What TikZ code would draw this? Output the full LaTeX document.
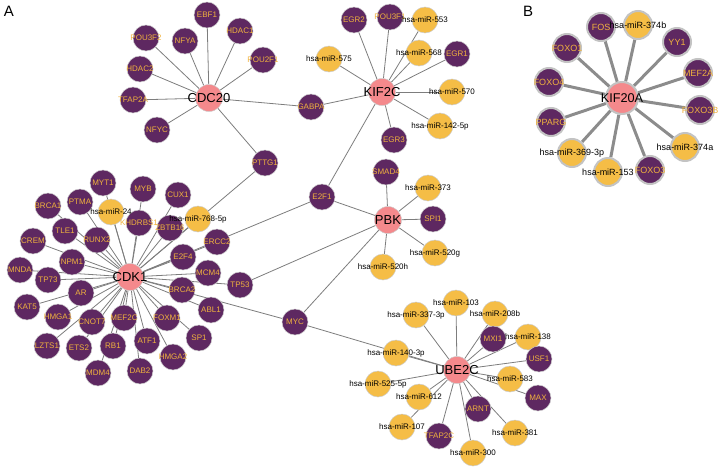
\documentclass[tikz,border=0pt]{standalone}
\usepackage{fontspec}
\setmainfont{Liberation Sans}
\pgfdeclarelayer{edges}
\pgfdeclarelayer{labels}
\pgfsetlayers{edges,main,labels}
\definecolor{tfc}{RGB}{94,40,97}
\definecolor{mic}{RGB}{245,189,70}
\definecolor{hubc}{RGB}{244,137,140}
\definecolor{tft}{RGB}{240,178,62}
\definecolor{bordc}{RGB}{205,205,205}
\definecolor{bordB}{RGB}{195,195,195}
\definecolor{edgec}{RGB}{125,125,125}
\definecolor{edgeBc}{RGB}{140,140,140}
\newcommand\mkn[5]{\node[#1] (#2) at (#3,#4) {};
  \begin{pgfonlayer}{labels}\node[#1lab] (#2-l) at (#2.center) {#5};\end{pgfonlayer}}
\tikzset{
  ndbase/.style={circle,inner sep=0pt},
  tf/.style={ndbase,fill=tfc,draw=bordc,line width=0.5pt,minimum size=26pt},
  mi/.style={ndbase,fill=mic,draw=bordc,line width=0.5pt,minimum size=26pt},
  hub/.style={ndbase,fill=hubc,draw=bordc,line width=0.5pt,minimum size=27pt},
  tflab/.style={inner sep=0pt,text=tft,font=\fontsize{8}{9}\selectfont},
  milab/.style={inner sep=0pt,text=black,font=\fontsize{8}{9}\selectfont},
  hublab/.style={inner sep=0pt,text=black,font=\fontsize{13}{14}\selectfont},
  tfB/.style={ndbase,fill=tfc,draw=bordB,line width=2pt,minimum size=28pt},
  miB/.style={ndbase,fill=mic,draw=bordB,line width=2pt,minimum size=28pt},
  hubB/.style={ndbase,fill=hubc,draw=bordB,line width=2pt,minimum size=32pt},
  tfBlab/.style={inner sep=0pt,text=tft,font=\fontsize{9}{10}\selectfont},
  miBlab/.style={inner sep=0pt,text=black,font=\fontsize{9}{10}\selectfont},
  hubBlab/.style={inner sep=0pt,text=black,font=\fontsize{12.7}{14}\selectfont},
  lnk/.style={draw=edgec,line width=0.8pt},
  lnkB/.style={draw=edgeBc,line width=3pt},
  panel/.style={inner sep=0pt,font=\fontsize{15}{16}\selectfont}
}
\begin{document}
\begin{tikzpicture}[x=1pt,y=-1pt]
\useasboundingbox (0,0) rectangle (721,469);
\node[panel] (lblA) at (9,11) {A};
\node[panel] (lblB) at (528,11) {B};
% CDC20 cluster
\mkn{hub}{cdc20}{209}{98}{CDC20}
\mkn{tf}{ebf1}{207}{15}{EBF1}
\mkn{tf}{hdac1}{240}{31}{HDAC1}
\mkn{tf}{nfya}{185}{41}{NFYA}
\mkn{tf}{pou3f2}{146}{38}{POU3F2}
\mkn{tf}{pou2f1}{263}{60}{POU2F1}
\mkn{tf}{hdac2}{140}{69}{HDAC2}
\mkn{tf}{tfap2a}{133}{100}{TFAP2A}
\mkn{tf}{nfyc}{157}{130}{NFYC}
\mkn{tf}{pttg1}{265}{163}{PTTG1}
\mkn{tf}{gabpa}{311}{107}{GABPA}
% KIF2C cluster
\mkn{hub}{kif2c}{382}{92}{KIF2C}
\mkn{tf}{egr2}{354}{20}{EGR2}
\mkn{tf}{pou3f1}{390}{17}{POU3F1}
\mkn{mi}{m553}{425}{20}{hsa-miR-553}
\mkn{mi}{m575}{329}{59}{hsa-miR-575}
\mkn{mi}{m568}{419}{53}{hsa-miR-568}
\mkn{tf}{egr1}{457}{54}{EGR1}
\mkn{mi}{m570}{452}{92}{hsa-miR-570}
\mkn{mi}{m142}{440}{126}{hsa-miR-142-5p}
\mkn{tf}{egr3}{394}{140}{EGR3}
\mkn{tf}{e2f1}{322}{197}{E2F1}
% PBK cluster
\mkn{hub}{pbk}{388}{220}{PBK}
\mkn{tf}{smad4}{386}{172}{SMAD4}
\mkn{mi}{m373}{428}{188}{hsa-miR-373}
\mkn{tf}{spi1}{433}{219}{SPI1}
\mkn{mi}{m520g}{435}{253}{hsa-miR-520g}
\mkn{mi}{m520h}{383}{267}{hsa-miR-520h}
\mkn{tf}{tp53}{240}{285}{TP53}
\mkn{tf}{myc}{295}{322}{MYC}
% CDK1 cluster
\mkn{hub}{cdk1}{130}{277}{CDK1}
\mkn{tf}{myt1}{103}{183}{MYT1}
\mkn{tf}{myb}{143}{189}{MYB}
\mkn{tf}{cux1}{178}{195}{CUX1}
\mkn{tf}{brca1}{48}{206}{BRCA1}
\mkn{tf}{ptma}{80}{202}{PTMA}
\mkn{mi}{m24}{111}{212}{hsa-miR-24}
\mkn{tf}{khdrbs1}{139}{223}{KHDRBS1}
\mkn{tf}{zbtb16}{170}{228}{ZBTB16}
\mkn{mi}{m768}{198}{219}{hsa-miR-768-5p}
\mkn{tf}{tle1}{65}{231}{TLE1}
\mkn{tf}{runx2}{97}{240}{RUNX2}
\mkn{tf}{crem}{33}{241}{CREM}
\mkn{tf}{ercc2}{217}{242}{ERCC2}
\mkn{tf}{e2f4}{183}{257}{E2F4}
\mkn{tf}{npm1}{72}{262}{NPM1}
\mkn{tf}{mnda}{20}{270}{MNDA}
\mkn{tf}{tp73}{48}{280}{TP73}
\mkn{tf}{mcm4}{208}{273}{MCM4}
\mkn{tf}{ar}{81}{293}{AR}
\mkn{tf}{brca2}{182}{290}{BRCA2}
\mkn{tf}{kat5}{27}{307}{KAT5}
\mkn{tf}{abl1}{211}{310}{ABL1}
\mkn{tf}{hmga1}{58}{317}{HMGA1}
\mkn{tf}{cnot7}{92}{322}{CNOT7}
\mkn{tf}{mef2c}{124}{318}{MEF2C}
\mkn{tf}{foxm1}{167}{318}{FOXM1}
\mkn{tf}{lzts1}{47}{346}{LZTS1}
\mkn{tf}{ets2}{79}{348}{ETS2}
\mkn{tf}{rb1}{113}{346}{RB1}
\mkn{tf}{atf1}{147}{341}{ATF1}
\mkn{tf}{sp1}{199}{338}{SP1}
\mkn{tf}{hmga2}{173}{357}{HMGA2}
\mkn{tf}{mdm4}{98}{373}{MDM4}
\mkn{tf}{dab2}{140}{371}{DAB2}
% UBE2C cluster
\mkn{hub}{ube2c}{457}{370}{UBE2C}
\mkn{mi}{m103}{456}{303}{hsa-miR-103}
\mkn{mi}{m337}{416}{315}{hsa-miR-337-3p}
\mkn{mi}{m208b}{495}{314}{hsa-miR-208b}
\mkn{tf}{mxi1}{493}{339}{MXI1}
\mkn{mi}{m138}{528}{337}{hsa-miR-138}
\mkn{tf}{usf1}{539}{359}{USF1}
\mkn{mi}{m140}{396}{353}{hsa-miR-140-3p}
\mkn{mi}{m525}{378}{384}{hsa-miR-525-5p}
\mkn{mi}{m583}{510}{379}{hsa-miR-583}
\mkn{tf}{max}{538}{398}{MAX}
\mkn{mi}{m612}{419}{397}{hsa-miR-612}
\mkn{tf}{arnt}{478}{409}{ARNT}
\mkn{mi}{m107}{402}{427}{hsa-miR-107}
\mkn{tf}{tfap2c}{439}{436}{TFAP2C}
\mkn{mi}{m381}{515}{433}{hsa-miR-381}
\mkn{mi}{m300}{473}{453}{hsa-miR-300}
% Panel B
\mkn{hubB}{kif20a}{622}{98}{KIF20A}
\mkn{tfB}{fos}{601}{27}{FOS}
\mkn{miB}{m374b}{638}{25}{hsa-miR-374b}
\mkn{tfB}{yy1}{677}{42}{YY1}
\mkn{tfB}{foxo1}{567}{48}{FOXO1}
\mkn{tfB}{mef2a}{698}{73}{MEF2A}
\mkn{tfB}{foxo4}{549}{82}{FOXO4}
\mkn{tfB}{foxo3b}{700}{110}{FOXO3B}
\mkn{tfB}{pparg}{551}{122}{PPARG}
\mkn{miB}{m374a}{685}{147}{hsa-miR-374a}
\mkn{miB}{m369}{572}{153}{hsa-miR-369-3p}
\mkn{miB}{m153}{608}{172}{hsa-miR-153}
\mkn{tfB}{foxo3}{650}{170}{FOXO3}
% edges
\begin{pgfonlayer}{edges}
\foreach \t in {ebf1,hdac1,nfya,pou3f2,pou2f1,hdac2,tfap2a,nfyc,pttg1,gabpa}
  \draw[lnk] (cdc20) -- (\t);
\foreach \t in {egr2,pou3f1,m553,m575,m568,egr1,m570,m142,egr3,gabpa,e2f1}
  \draw[lnk] (kif2c) -- (\t);
\foreach \t in {smad4,m373,spi1,m520g,m520h,e2f1,tp53,myc}
  \draw[lnk] (pbk) -- (\t);
\foreach \t in {myt1,myb,cux1,brca1,ptma,m24,khdrbs1,zbtb16,m768,tle1,runx2,crem,ercc2,e2f4,npm1,mnda,tp73,mcm4,tp53,ar,brca2,kat5,abl1,hmga1,cnot7,mef2c,foxm1,lzts1,ets2,rb1,atf1,sp1,hmga2,mdm4,dab2,pttg1,e2f1,myc}
  \draw[lnk] (cdk1) -- (\t);
\foreach \t in {m103,m337,m208b,mxi1,m138,usf1,m140,m525,m583,max,m612,arnt,m107,tfap2c,m381,m300,myc}
  \draw[lnk] (ube2c) -- (\t);
\foreach \t in {fos,m374b,yy1,foxo1,mef2a,foxo4,foxo3b,pparg,m374a,m369,m153,foxo3}
  \draw[lnkB] (kif20a) -- (\t);
\end{pgfonlayer}
\end{tikzpicture}
\end{document}
